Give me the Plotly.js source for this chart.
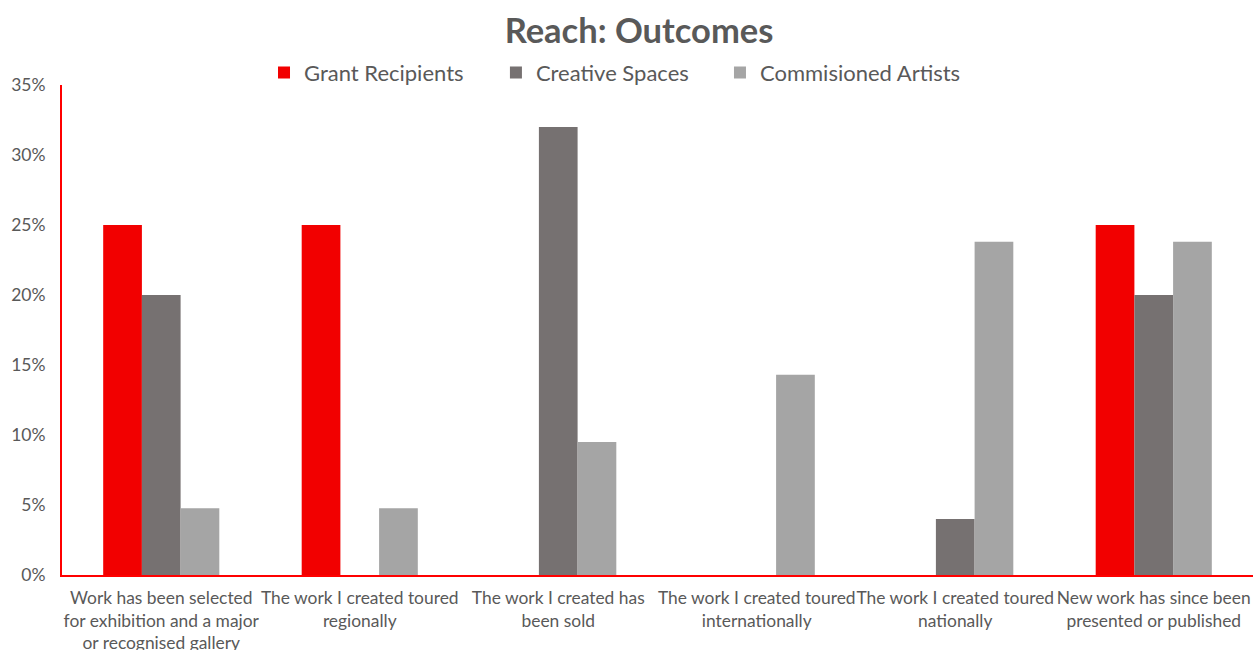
<!DOCTYPE html>
<html><head><meta charset="utf-8">
<script src="https://cdn.plot.ly/plotly-3.0.1.min.js"></script>
<style>html,body{margin:0;padding:0;background:#fff}#chart{width:1253px;height:650px}</style>
</head><body><div id="chart"></div>
<script>
const categories = [
  "Work has been selected<br>for exhibition and a major<br>or recognised gallery",
  "The work I created toured<br>regionally",
  "The work I created has<br>been sold",
  "The work I created toured<br>internationally",
  "The work I created toured<br>nationally",
  "New work has since been<br>presented or published"
];
const grantRecipients = [25, 25, 0, 0, 0, 25];
const creativeSpaces = [20, 0, 32, 0, 4, 20];
const commissionedArtists = [4.76, 4.76, 9.5, 14.3, 23.8, 23.8];
const seriesNames = ["Grant Recipients", "Creative Spaces", "Commisioned Artists"];
const yTicks = [0, 5, 10, 15, 20, 25, 30, 35];

const colors = ["#f20000", "#767171", "#a5a5a5"];
const legendIds = ["legend", "legend2", "legend3"];
const legendX = [0.2107, 0.3958, 0.5746];
const series = [grantRecipients, creativeSpaces, commissionedArtists];
const data = series.map((v, i) => ({
  type: "bar", x: categories, y: v, name: seriesNames[i], legend: legendIds[i],
  marker: {color: colors[i]}, hoverinfo: "none"
}));
const font = "Lato, 'Noto Sans', sans-serif";
const layout = {
  width: 1253, height: 650,
  margin: {l: 62, r: 0, t: 85, b: 75, autoexpand: false},
  paper_bgcolor: "#fff", plot_bgcolor: "#fff",
  barmode: "group", bargap: 0.415, bargroupgap: 0,
  font: {family: font, color: "#595959", size: 15},
  title: {text: "<b>Reach: Outcomes</b>", x: 0.51, xanchor: "center", y: 0.952, yanchor: "middle",
          font: {family: font, size: 34.5, color: "#595959"}},
  showlegend: true,
  xaxis: {showline: true, linecolor: "#ff0000", linewidth: 2, showgrid: false, zeroline: false,
          ticks: "outside", ticklen: 6, tickcolor: "rgba(0,0,0,0)",
          tickfont: {family: font, size: 17.4, color: "#595959"}, tickangle: 0, fixedrange: true},
  yaxis: {range: [0, 35], showline: true, linecolor: "#ff0000", linewidth: 2, showgrid: false, zeroline: false,
          tickvals: yTicks, ticktext: yTicks.map(t => t + "%"), ticks: "", ticklabelstandoff: 11,
          tickfont: {family: font, size: 17.5, color: "#595959"}, fixedrange: true}
};
legendIds.forEach((id, i) => {
  layout[id] = {orientation: "h", x: legendX[i], xanchor: "left", xref: "container",
                y: 0.888, yref: "container", yanchor: "middle", bgcolor: "rgba(0,0,0,0)",
                font: {family: font, size: 22, color: "#595959"}, itemwidth: 30};
});
Plotly.newPlot("chart", data, layout, {displayModeBar: false, staticPlot: true});
</script></body></html>
